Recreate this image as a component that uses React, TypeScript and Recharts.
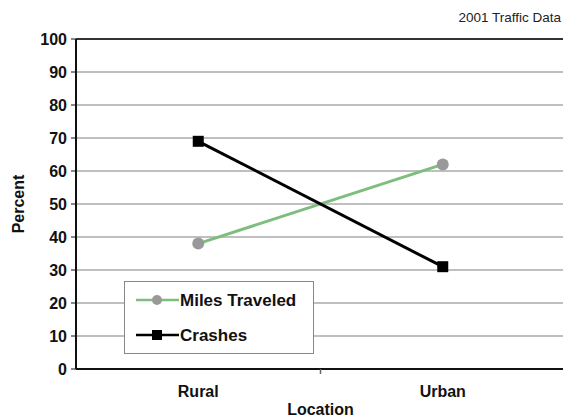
import { LineChart, Line, XAxis, YAxis, CartesianGrid, Legend, ReferenceLine } from "recharts";

const locations = ["Rural", "Urban"];
const milesTraveled = [38, 62];
const crashes = [69, 31];
const yTicks = [0, 10, 20, 30, 40, 50, 60, 70, 80, 90, 100];

const FONT = "'Liberation Sans', Arial, Helvetica, sans-serif";
const GREEN = "#7dbd7d";

const chartData = locations.map((loc, i) => ({
  location: loc,
  "Miles Traveled": milesTraveled[i],
  Crashes: crashes[i],
}));

function SquareDot(props: any) {
  const { cx, cy } = props;
  if (cx == null || cy == null) return null;
  return <rect x={cx - 5.5} y={cy - 5.5} width={11} height={11} fill="#000" />;
}

function XTick(props: any) {
  const { x, y, payload, index } = props;
  return (
    <g>
      {index === 0 && (
        <line x1={x + payload.offset} x2={x + payload.offset} y1={y} y2={y + 5} stroke="#666" strokeWidth={1.5} />
      )}
      <text x={x} y={y + 28} textAnchor="middle" fontFamily={FONT} fontSize={16} fontWeight="bold" fill="#111">
        {payload.value}
      </text>
    </g>
  );
}

function LegendBox() {
  return (
    <div style={{ width: 190, height: 73, border: "1px solid #888", background: "#fff", boxSizing: "border-box", position: "relative" }}>
      <svg width={190} height={73} style={{ position: "absolute", left: 0, top: 0 }}>
        <line x1={11} x2={54} y1={18} y2={18} stroke={GREEN} strokeWidth={2.5} />
        <circle cx={32} cy={18} r={5} fill="#999" />
        <text x={55} y={24} fontFamily={FONT} fontSize={17} fontWeight="bold" fill="#111">Miles Traveled</text>
        <line x1={11} x2={54} y1={53} y2={53} stroke="#000" strokeWidth={2.5} />
        <rect x={27} y={48} width={10} height={10} fill="#000" />
        <text x={55} y={59} fontFamily={FONT} fontSize={17} fontWeight="bold" fill="#111">Crashes</text>
      </svg>
    </div>
  );
}

export default function App() {
  return (
    <div style={{ position: "absolute", left: 0, top: 0, width: 563, height: 419, background: "#fff" }}>
      <LineChart width={563} height={419} data={chartData} margin={{ top: 39, right: -2, bottom: 0, left: 0 }}>
        <CartesianGrid vertical={false} stroke="#aaa" strokeWidth={1.3} />
        <XAxis
          dataKey="location"
          scale="band"
          axisLine={{ stroke: "#111", strokeWidth: 2 }}
          tickLine={false}
          tickSize={0}
          tickMargin={0}
          tick={<XTick />}
          height={50}
          label={{ value: "Location", position: "insideBottom", offset: 4, style: { fontFamily: FONT, fontSize: 16, fontWeight: "bold", fill: "#111" } }}
        />
        <YAxis
          domain={[0, 100]}
          ticks={yTicks}
          interval={0}
          width={76}
          axisLine={{ stroke: "#111", strokeWidth: 2 }}
          tickLine={{ stroke: "#111" }}
          tickSize={5}
          tickMargin={4}
          tick={{ fontFamily: FONT, fontSize: 16, fontWeight: "bold", fill: "#111" }}
          label={{ value: "Percent", angle: -90, position: "insideLeft", offset: 18, style: { fontFamily: FONT, fontSize: 16, fontWeight: "bold", fill: "#111", textAnchor: "middle" } }}
        />
        <ReferenceLine y={100} stroke="#333" strokeWidth={2} />
        <Line
          dataKey="Miles Traveled"
          stroke={GREEN}
          strokeWidth={3}
          dot={{ r: 6, fill: "#999", stroke: "#999", strokeWidth: 0 }}
          isAnimationActive={false}
        />
        <Line
          dataKey="Crashes"
          stroke="#000"
          strokeWidth={3}
          dot={<SquareDot />}
          isAnimationActive={false}
        />
        <Legend
          layout="vertical"
          align="center"
          verticalAlign="middle"
          content={() => <LegendBox />}
          wrapperStyle={{ left: 124, top: 281, width: 190, height: 73 }}
        />
        <text x={561} y={22} textAnchor="end" fontFamily={FONT} fontSize={13.5} fill="#222">2001 Traffic Data</text>
      </LineChart>
    </div>
  );
}
